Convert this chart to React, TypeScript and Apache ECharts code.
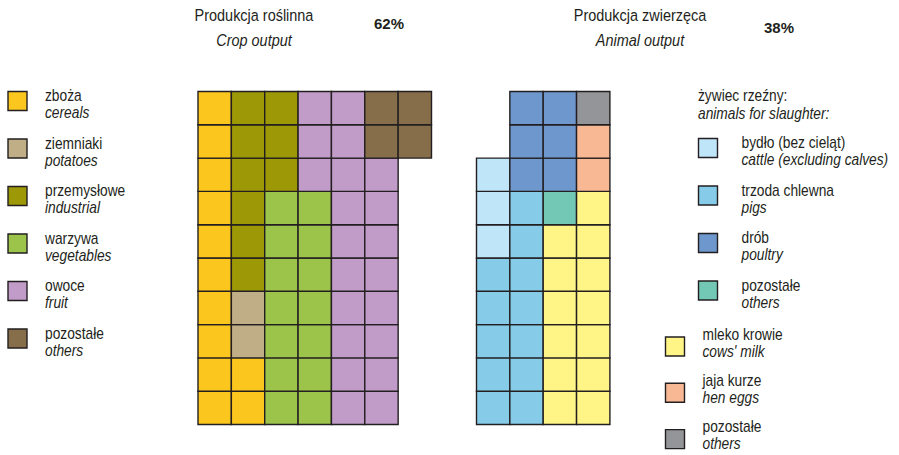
import React, { useEffect, useRef } from "react";
import * as echarts from "echarts";

// ---- data ----
const cropNamesPl = ["zboża", "ziemniaki", "przemysłowe", "warzywa", "owoce", "pozostałe"];
const cropNamesEn = ["cereals", "potatoes", "industrial", "vegetables", "fruit", "others"];
const cropColors = ["#FBC71E", "#BFAE86", "#9D9806", "#9CC34A", "#C19CC8", "#876E4A"];
// each column: segments [categoryIndex, cellCount] from bottom to top (-1 = empty)
const cropColumns: number[][][] = [
  [[0, 10]],
  [[0, 2], [1, 2], [2, 6]],
  [[3, 7], [2, 3]],
  [[3, 7], [4, 3]],
  [[4, 10]],
  [[4, 8], [5, 2]],
  [[-1, 8], [5, 2]],
];
const cropShare = "62%";

const animalNamesPl = ["bydło (bez cieląt)", "trzoda chlewna", "drób", "pozostałe", "mleko krowie", "jaja kurze", "pozostałe"];
const animalNamesEn = ["cattle (excluding calves)", "pigs", "poultry", "others", "cows' milk", "hen eggs", "others"];
const animalColors = ["#BEE5F8", "#86CCE9", "#6E98CD", "#72C8B5", "#FFF586", "#F9B894", "#939598"];
const animalColumns: number[][][] = [
  [[1, 5], [0, 3], [-1, 2]],
  [[1, 7], [2, 3]],
  [[4, 6], [3, 1], [2, 3]],
  [[4, 7], [5, 2], [6, 1]],
];
const animalShare = "38%";

function buildCells(columns: number[][][]) {
  const out: number[][] = [];
  columns.forEach((col, ci) => {
    let r = 0;
    col.forEach(([cat, n]) => {
      for (let k = 0; k < n; k++) {
        if (cat >= 0) out.push([ci, r, cat]);
        r++;
      }
    });
  });
  return out;
}

const FONT = '"Liberation Sans", Arial, sans-serif';
const INK = "#231F20";
const LEG = `16px ${FONT}`;
const LEGI = `italic 16px ${FONT}`;
const LEG_SX = 0.86;

export default function App() {
  const ref = useRef<HTMLDivElement>(null);
  useEffect(() => {
    document.body.style.margin = "0";
    if (!ref.current) return;
    const chart = echarts.init(ref.current, undefined, { renderer: "svg" });

    const makeRender = (colors: string[]) => (params: any, api: any) => {
      const x = api.value(0);
      const y = api.value(1);
      const c = api.value(2);
      const p = api.coord([x, y + 1]);
      const s = api.size([1, 1]);
      return {
        type: "rect",
        shape: { x: p[0], y: p[1], width: s[0], height: s[1] },
        style: { fill: colors[c], stroke: INK, lineWidth: 1.4 },
      };
    };

    const graphics: any[] = [];
    const txt = (x: number, y: number, text: string, opts: any = {}) => {
      graphics.push({
        type: "text",
        x,
        y,
        scaleX: opts.sx != null ? opts.sx : LEG_SX,
        style: {
          text,
          fill: INK,
          font: opts.font || LEG,
          textAlign: opts.align || "left",
          textVerticalAlign: "middle",
        },
      });
    };
    const box = (x: number, y: number, color: string) => {
      graphics.push({
        type: "rect",
        shape: { x, y, width: 19, height: 19 },
        style: { fill: color, stroke: INK, lineWidth: 1.4 },
      });
    };

    // titles
    txt(254, 15, "Produkcja roślinna", { font: `17px ${FONT}`, align: "center", sx: 0.85 });
    txt(254, 40, "Crop output", { font: `italic 17px ${FONT}`, align: "center", sx: 0.85 });
    txt(389, 23, cropShare, { font: `bold 15px ${FONT}`, align: "center", sx: 1 });
    txt(640, 15, "Produkcja zwierzęca", { font: `17px ${FONT}`, align: "center", sx: 0.85 });
    txt(640, 40, "Animal output", { font: `italic 17px ${FONT}`, align: "center", sx: 0.85 });
    txt(779, 27, animalShare, { font: `bold 15px ${FONT}`, align: "center", sx: 1 });

    // left legend
    cropNamesPl.forEach((n, i) => {
      const top = 91.5 + i * 47.5;
      box(8, top, cropColors[i]);
      txt(45, top + 4, n);
      txt(45, top + 21, cropNamesEn[i], { font: LEGI });
    });

    // right legend
    txt(698, 95, "żywiec rzeźny:");
    txt(698, 113, "animals for slaughter:", { font: LEGI });
    for (let i = 0; i < 4; i++) {
      const top = 138.5 + i * 47.5;
      box(698.5, top, animalColors[i]);
      txt(741.5, top + 4, animalNamesPl[i]);
      txt(741.5, top + 21, animalNamesEn[i], { font: LEGI });
    }
    for (let i = 4; i < 7; i++) {
      const top = 337 + (i - 4) * 46.3;
      box(665.5, top, animalColors[i]);
      txt(702.5, top - 3, animalNamesPl[i]);
      txt(702.5, top + 14, animalNamesEn[i], { font: LEGI });
    }

    chart.setOption({
      animation: false,
      grid: [
        { left: 198, top: 91.5, width: 233.5, height: 333 },
        { left: 476.5, top: 91.5, width: 133.4, height: 333 },
      ],
      xAxis: [
        { type: "value", gridIndex: 0, min: 0, max: 7, show: false },
        { type: "value", gridIndex: 1, min: 0, max: 4, show: false },
      ],
      yAxis: [
        { type: "value", gridIndex: 0, min: 0, max: 10, show: false },
        { type: "value", gridIndex: 1, min: 0, max: 10, show: false },
      ],
      series: [
        {
          type: "custom",
          xAxisIndex: 0,
          yAxisIndex: 0,
          clip: false,
          renderItem: makeRender(cropColors),
          data: buildCells(cropColumns),
        },
        {
          type: "custom",
          xAxisIndex: 1,
          yAxisIndex: 1,
          clip: false,
          renderItem: makeRender(animalColors),
          data: buildCells(animalColumns),
        },
      ],
      graphic: graphics,
    });
    return () => chart.dispose();
  }, []);
  return <div ref={ref} style={{ width: 899, height: 455 }} />;
}
